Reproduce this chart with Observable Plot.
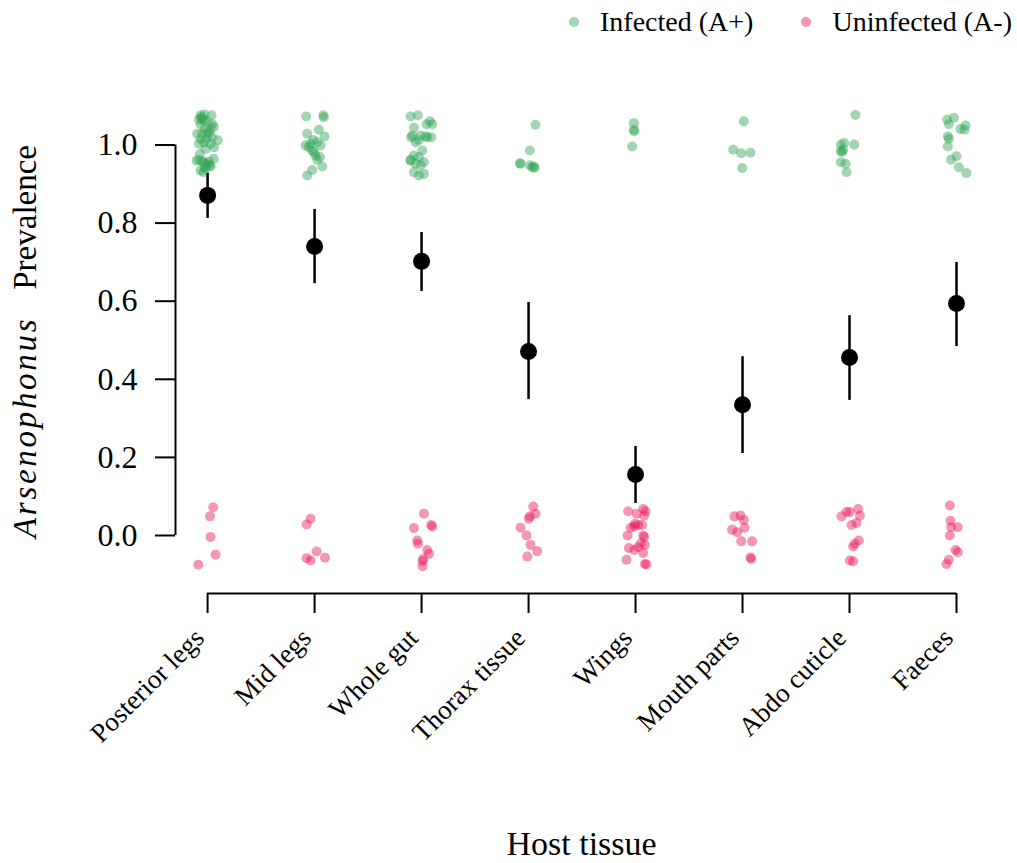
<!DOCTYPE html>
<html>
<head>
<meta charset="utf-8">
<script src="https://cdn.jsdelivr.net/npm/d3@7"></script>
<script src="https://cdn.jsdelivr.net/npm/@observablehq/plot@0.6"></script>
<style>
  html, body { margin: 0; padding: 0; background: #fff; }
  #legend { height: 44px; display: flex; justify-content: flex-end; align-items: center;
            padding-right: 5px; font-family: "Liberation Serif", "Times New Roman", serif; font-size: 28px; color: #000; }
  #legend .item { display: flex; align-items: center; }
  #legend .item + .item { margin-left: 48px; }
  #legend .dot { width: 10px; height: 10px; border-radius: 50%; margin-right: 21px; }
  #chart svg { display: block; }
</style>
</head>
<body>
<div id="legend"></div>
<div id="chart"></div>
<script>
// ---- Data ----
const tissues = ["Posterior legs", "Mid legs", "Whole gut", "Thorax tissue", "Wings", "Mouth parts", "Abdo cuticle", "Faeces"];
const prevalence = [0.871, 0.740, 0.702, 0.471, 0.156, 0.335, 0.456, 0.594];
const ciLow  = [0.812, 0.645, 0.625, 0.348, 0.082, 0.210, 0.346, 0.484];
const ciHigh = [0.927, 0.835, 0.776, 0.597, 0.228, 0.458, 0.563, 0.699];
const groups = ["Infected (A+)", "Uninfected (A-)"];
const groupColors = ["#31a354", "#e8175d"];
const yTicks = [0, 0.2, 0.4, 0.6, 0.8, 1.0];

// Jittered individual samples per tissue: [horizontal jitter (category units), value]
const infectedSamples = [
  [[-0.065,1.076],[-0.028,1.078],[0.037,1.076],[-0.081,1.065],[-0.05,1.067],[-0.003,1.061],[0.059,1.046],[0.044,1.053],[-0.065,1.053],[-0.028,1.041],[-0.097,1.029],[-0.05,1.029],[-0.003,1.033],[0.044,1.02],[0.097,1.012],[-0.081,1.003],[-0.034,1.007],[0.028,1.003],[0.059,0.994],[-0.019,0.99],[-0.081,0.962],[-0.034,0.956],[-0.003,0.952],[0.059,0.965],[0.022,0.948],[-0.065,0.935],[-0.019,0.939],[0.028,0.945],[-0.04,0.93],[-0.103,0.96],[-0.059,1.071],[-0.034,1.063],[0.012,1.029],[-0.065,1.016],[0.028,1.041],[-0.009,1.016],[-0.05,0.958],[0.012,0.958],[-0.028,0.943],[-0.072,0.977]],
  [[-0.078,1.073],[0.081,1.076],[0.087,1.071],[-0.069,1.029],[0.04,1.039],[0.093,1.022],[-0.012,1.013],[0.025,1.007],[-0.084,0.999],[-0.037,1.003],[0.056,0.999],[-0.006,0.982],[-0.022,0.986],[0.009,0.973],[0.05,0.969],[0.025,0.962],[0.072,0.945],[-0.022,0.936],[-0.069,0.922],[-0.053,0.994]],
  [[-0.103,1.073],[-0.034,1.076],[0.078,1.061],[0.047,1.053],[0.1,1.053],[-0.072,1.044],[-0.097,1.02],[-0.009,1.024],[0.053,1.02],[0.09,1.02],[-0.056,1.007],[-0.087,1.024],[-0.025,1.012],[0.006,0.986],[-0.072,0.973],[-0.025,0.969],[-0.103,0.96],[0.022,0.956],[-0.056,0.952],[-0.009,0.948],[-0.072,0.93],[0.022,0.926],[-0.025,0.922],[-0.103,0.962],[0.037,1.022]],
  [[0.065,1.052],[0.012,0.986],[-0.081,0.953],[-0.075,0.952],[0.012,0.948],[0.05,0.945],[0.034,0.943],[0.056,0.942]],
  [[-0.016,1.056],[-0.016,1.039],[-0.012,1.035],[-0.031,0.996]],
  [[0.012,1.061],[-0.087,0.988],[-0.012,0.979],[0.075,0.98],[-0.003,0.941]],
  [[0.056,1.077],[-0.081,1.0005],[-0.05,1.005],[0.044,1.001],[-0.081,0.984],[-0.069,0.982],[-0.059,0.988],[-0.081,0.956],[-0.037,0.952],[-0.028,0.93]],
  [[-0.087,1.065],[-0.025,1.07],[-0.072,1.053],[0.037,1.041],[0.084,1.05],[0.075,1.039],[-0.081,1.022],[-0.072,1.016],[-0.081,0.996],[0,0.971],[-0.05,0.962],[0.022,0.943],[0.093,0.928]]
];
const uninfectedSamples = [
  [[0.053,0.0725],[0.022,0.049],[0.028,-0.004],[0.075,-0.049],[-0.087,-0.075]],
  [[-0.037,0.043],[-0.075,0.028],[0.019,-0.041],[-0.075,-0.058],[-0.037,-0.064],[0.097,-0.057]],
  [[0.022,0.056],[-0.072,0.019],[0.09,0.027],[0.1,0.023],[-0.04,-0.013],[-0.034,-0.021],[0.053,-0.037],[0.069,-0.047],[0.016,-0.06],[0.009,-0.066],[0.009,-0.079]],
  [[0.044,0.074],[0.065,0.056],[0.012,0.049],[0.003,0.043],[-0.075,0.02],[-0.019,0],[0.019,-0.024],[0.081,-0.04],[-0.012,-0.054]],
  [[-0.069,0.062],[0.009,0.056],[0.072,0.068],[0.093,0.062],[0.081,0.051],[-0.012,0.023],[0.025,0.027],[0.062,0.027],[-0.044,0.02],[-0.075,0],[0.072,0],[0.081,-0.004],[0.05,-0.02],[0.087,-0.024],[-0.062,-0.032],[-0.012,-0.037],[0.025,-0.03],[0.072,-0.045],[-0.084,-0.062],[0.087,-0.073],[0.103,-0.074],[-0.006,0.03]],
  [[-0.075,0.049],[-0.019,0.051],[0.012,0.04],[-0.097,0.015],[-0.05,0.0085],[0.019,0.02],[-0.012,-0.015],[0.09,-0.015],[0.075,-0.056],[0.081,-0.06]],
  [[-0.075,0.049],[-0.028,0.06],[0.003,0.06],[0.081,0.068],[0.097,0.051],[0.065,0.032],[0.019,0.027],[0.087,-0.013],[0.05,-0.021],[0.034,-0.028],[0.003,-0.064],[0.034,-0.066]],
  [[-0.062,0.077],[-0.056,0.038],[-0.05,0.021],[0.012,0.021],[-0.062,0],[-0.009,-0.037],[0.012,-0.043],[-0.072,-0.062],[-0.093,-0.073]]
];

// ---- Tables built from the arrays ----
const samples = [];
[infectedSamples, uninfectedSamples].forEach((set, g) => {
  set.forEach((arr, i) => arr.forEach(([dx, v]) => samples.push({pos: i + 1 + dx, value: v, group: groups[g]})));
});
const summary = tissues.map((t, i) => ({pos: i + 1, tissue: t, mean: prevalence[i], lo: ciLow[i], hi: ciHigh[i]}));

// ---- Legend ----
const legend = d3.select("#legend");
groups.forEach((g, i) => {
  const item = legend.append("div").attr("class", "item");
  item.append("div").attr("class", "dot").style("background", groupColors[i]).style("opacity", 0.45);
  item.append("span").text(g);
});

// ---- Chart ----
const yMin = -0.1485;
const xMin = 0.7;
const font = "'Liberation Serif', 'Times New Roman', serif";

const svg = Plot.plot({
  width: 1017,
  height: 819,
  marginLeft: 175,
  marginRight: 61,
  marginTop: 100.5,
  marginBottom: 270,
  style: {fontFamily: font, background: "#fff", color: "#000"},
  x: {type: "linear", domain: [xMin, tissues.length]},
  y: {domain: [yMin, 1]},
  color: {domain: groups, range: groupColors},
  marks: [
    Plot.ruleX([xMin], {y1: 0, y2: 1, strokeWidth: 2}),
    Plot.ruleY([yMin], {x1: 1, x2: tissues.length, strokeWidth: 2}),
    Plot.axisY({ticks: yTicks, tickFormat: d3.format(".1f"), tickSize: 20, tickPadding: 18, fontSize: 32, strokeWidth: 2, label: null}),
    Plot.axisX({ticks: d3.range(1, tissues.length + 1), tickFormat: () => "", tickSize: 20, strokeWidth: 2, label: null}),
    Plot.text(summary, {x: "pos", text: "tissue", frameAnchor: "bottom", rotate: -45, textAnchor: "end",
                        lineAnchor: "middle", dx: -8, dy: 40, fontSize: 27, fill: "#000"}),
    Plot.dot(samples, {x: "pos", y: "value", fill: "group", r: 5, fillOpacity: 0.45, stroke: null}),
    Plot.ruleX(summary, {x: "pos", y1: "lo", y2: "hi", strokeWidth: 2.5, stroke: "#000"}),
    Plot.dot(summary, {x: "pos", y: "mean", r: 8.5, fill: "#000", stroke: null})
  ]
});

const xs = svg.scale("x"), ys = svg.scale("y");
const s = d3.select(svg);
// x-axis title
s.append("text")
  .attr("x", xs.apply((1 + tissues.length) / 2))
  .attr("y", 811)
  .attr("text-anchor", "middle")
  .attr("font-size", 34)
  .attr("font-family", font)
  .attr("fill", "#000")
  .text("Host tissue");
// y-axis title with italic genus name
const yt = s.append("text")
  .attr("transform", "rotate(-90)")
  .attr("y", 36)
  .attr("text-anchor", "start")
  .attr("font-size", 33)
  .attr("font-family", font)
  .attr("fill", "#000");
yt.append("tspan").attr("x", -(ys.apply(0) + 3)).attr("font-style", "italic").attr("letter-spacing", 2.7).text("Arsenophonus");
yt.append("tspan").attr("x", -(ys.apply(0.5) - 50)).text("Prevalence");

document.getElementById("chart").appendChild(svg);
</script>
</body>
</html>
